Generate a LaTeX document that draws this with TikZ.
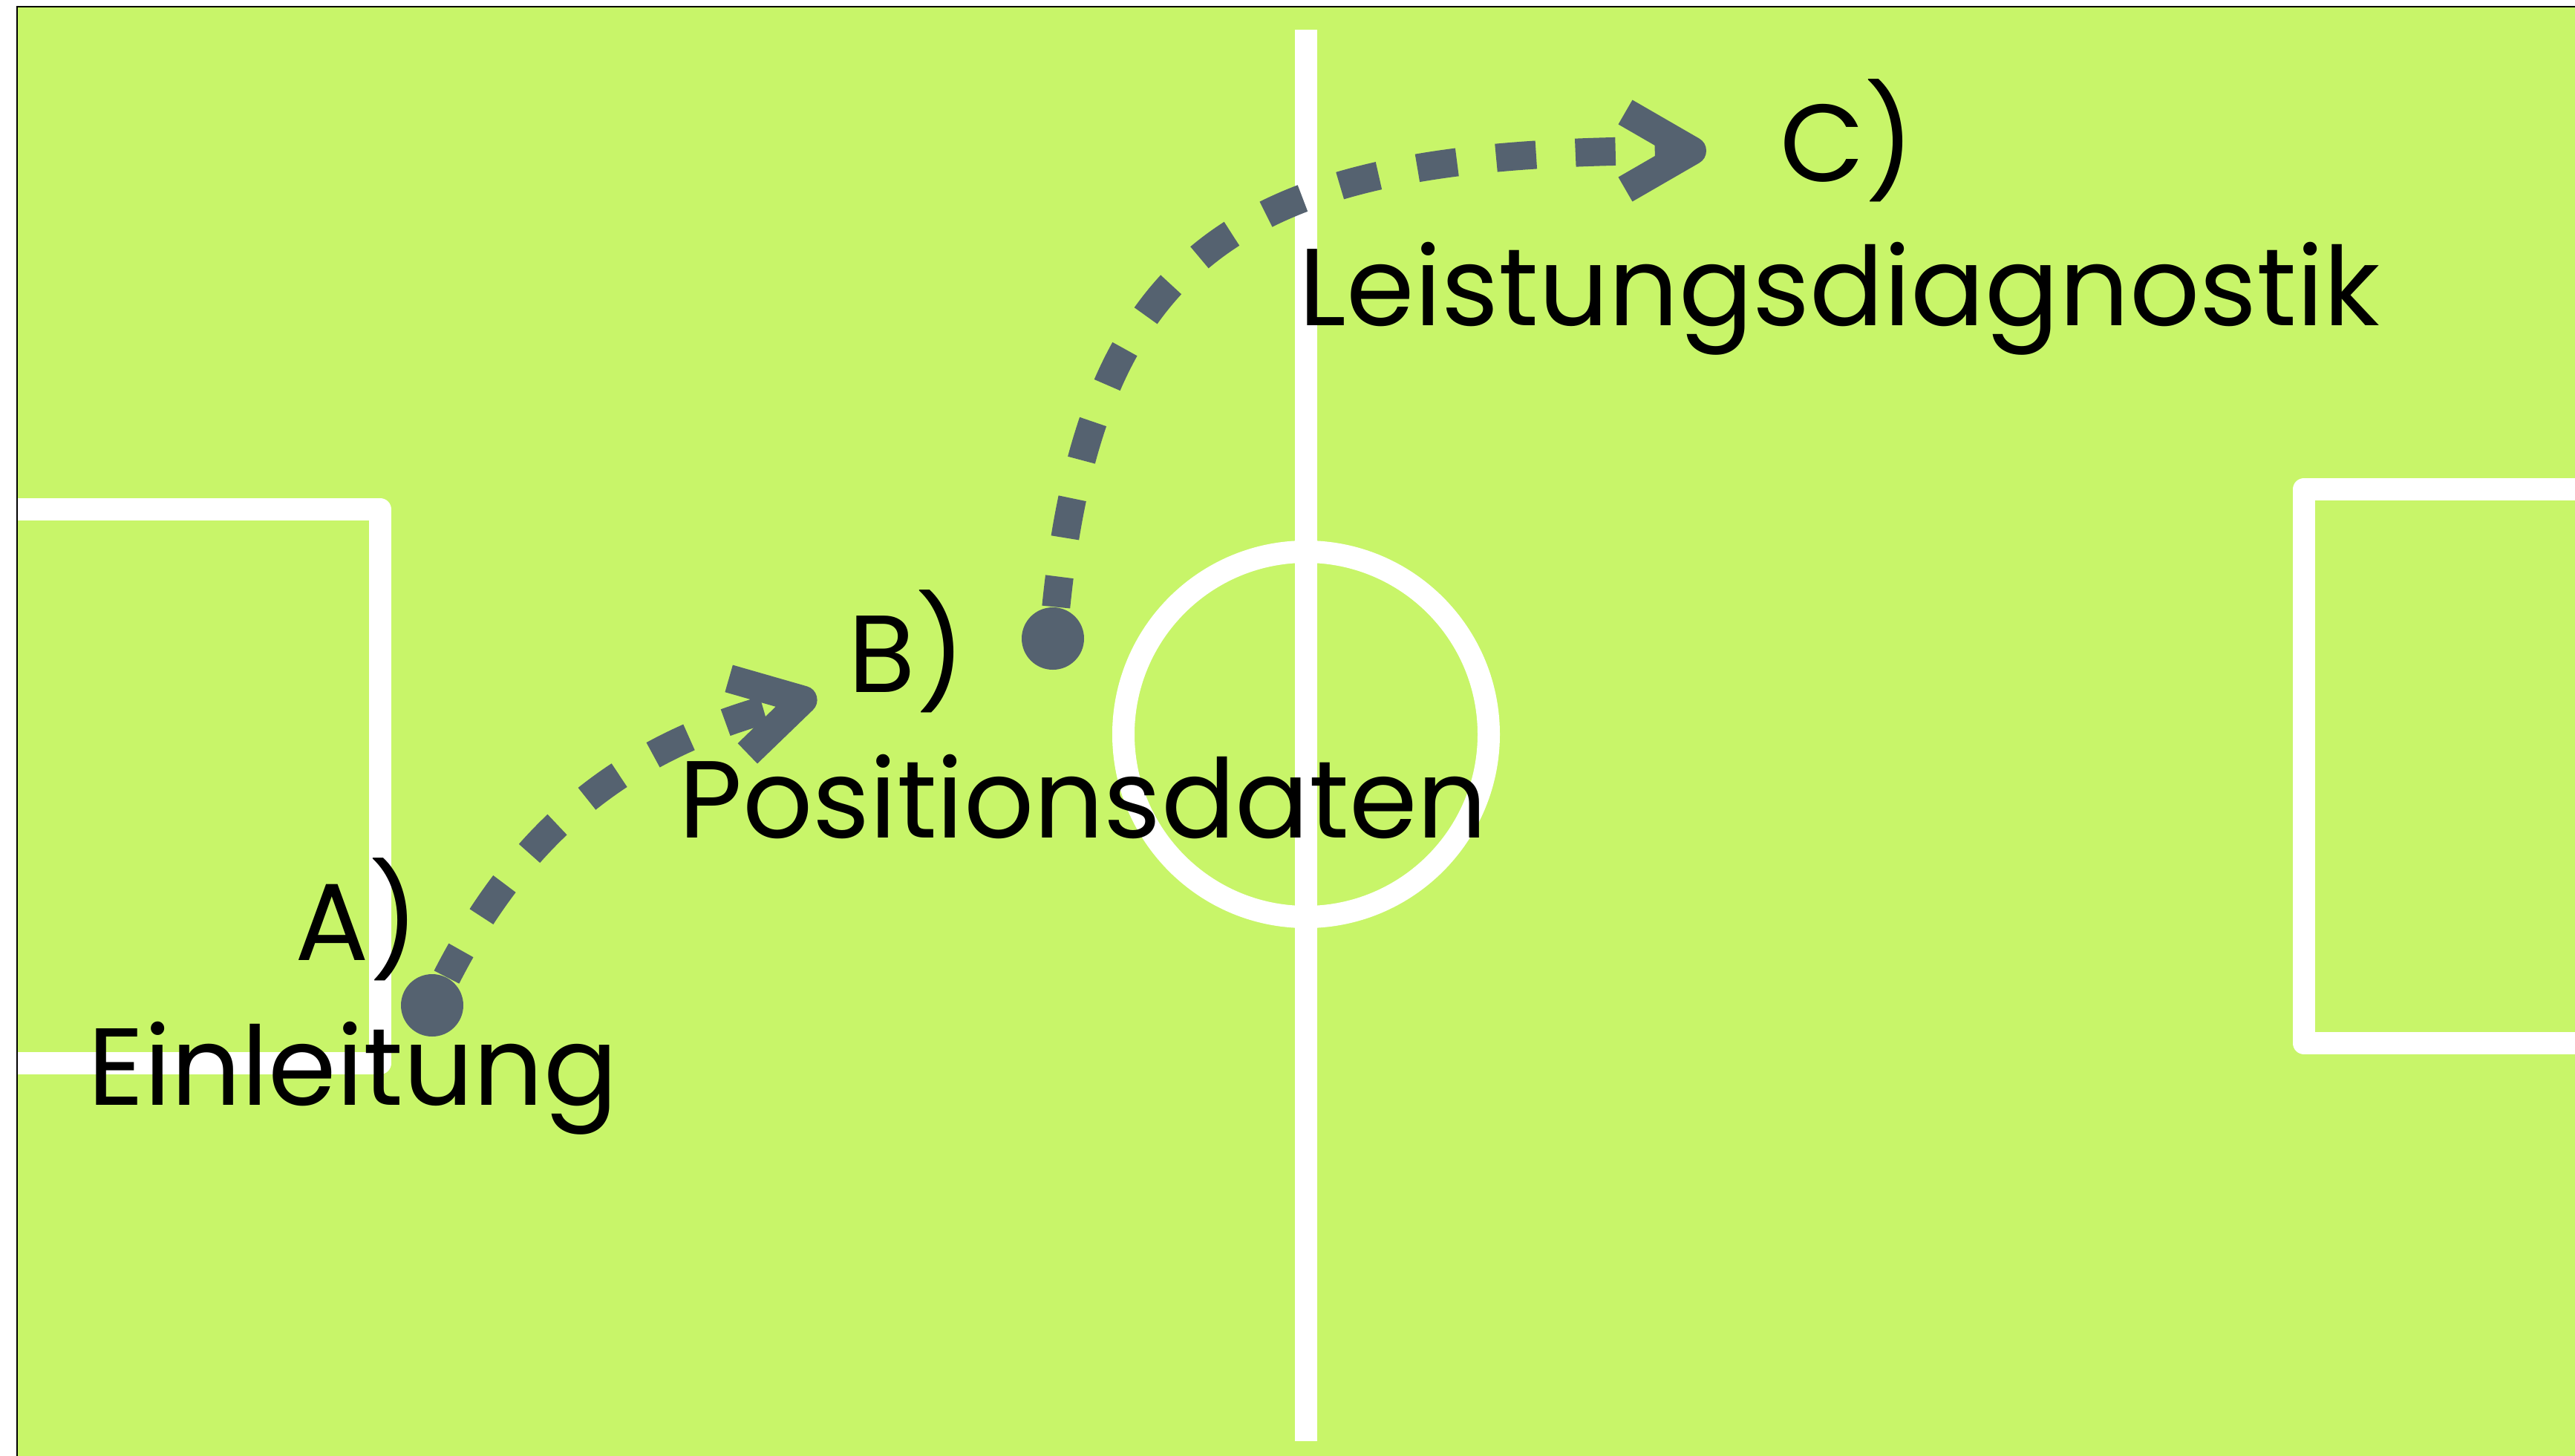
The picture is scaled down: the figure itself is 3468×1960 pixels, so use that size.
\documentclass[tikz,border=0pt]{standalone}
\usepackage{fontspec}
\setmainfont{Poppins}
\usetikzlibrary{arrows.meta}

\definecolor{pitch}{RGB}{200,245,105}
\definecolor{slate}{RGB}{85,98,112}

\tikzset{
  fieldline/.style={draw=white, line width=3.0mm, line join=round},
  spot/.style={circle, fill=slate, minimum size=8.4mm, inner sep=0pt},
  route/.style={draw=slate, line width=3.8mm, dash pattern=on 5.4mm off 5.3mm, dash phase=1.3mm,
    -{Straight Barb[length=9mm, width=10.4mm, line join=round]}},
  steptag/.style={anchor=base west, inner sep=0pt, font=\fontsize{42}{46}\selectfont},
}

\begin{document}
\begin{tikzpicture}[x=0.1mm, y=-0.1mm]

\useasboundingbox (0,0) rectangle (3468,1960);
\clip (0,0) rectangle (3468,1960);
\fill[white] (0,0) rectangle (3468,1960);
\fill[pitch] (23,9) rectangle (3480,1980);

% pitch markings
\draw[fieldline] (1759,40) -- (1759,1941);
\draw[fieldline] (1759,989) circle (24.6mm);
\draw[fieldline] (10,686) -- (512,686) -- (512,1432) -- (10,1432);
\draw[fieldline] (3480,659) -- (3103,659) -- (3103,1405) -- (3480,1405);
\draw[black, line width=0.2mm] (23,1980) -- (23,9) -- (3480,9);

\node [spot] (dotA) at (582,1354) {};
\node [spot] (dotB) at (1418,860) {};
\coordinate (tipB) at (1100,938);
\coordinate (tipC) at (2298,203);

\draw [route] (dotA) .. controls (703,1118) and (843,1002) .. (tipB);
\draw [route] (dotB) .. controls (1473,313) and (1698,203) .. (tipC);

\node [steptag] (tagA) at (397,1293) {A)};
\node [steptag] (nameA) at (118,1488) {Einleitung};
\node [steptag] (tagB) at (1142,932) {B)};
\node [steptag] (nameB) at (914,1128) {Positionsdaten};
\node [steptag] (tagC) at (2397,244) {C)};
\node [steptag] (nameC) at (1749,438) {Leistungsdiagnostik};

\end{tikzpicture}
\end{document}
